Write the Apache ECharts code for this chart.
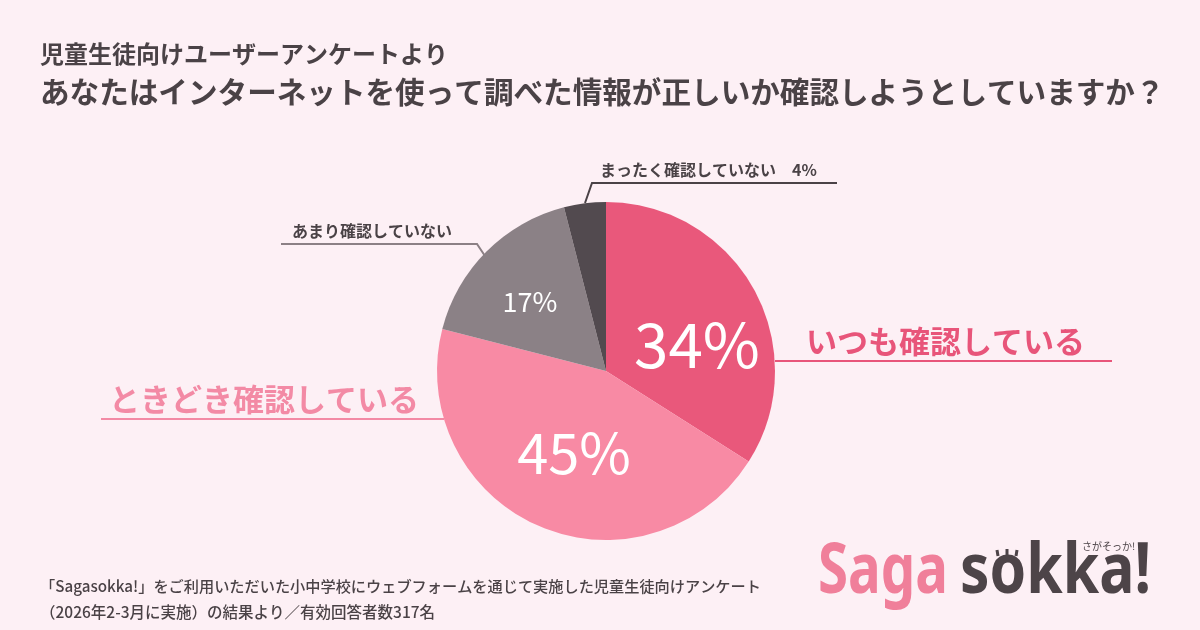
<!DOCTYPE html>
<html><head><meta charset="utf-8">
<script src="https://cdn.jsdelivr.net/npm/echarts@6/dist/echarts.min.js"></script>
<style>html,body{margin:0;padding:0;background:#fdf0f5}#c{width:1200px;height:630px}</style>
</head><body><div id="c"></div>
<script>
const categories = ['いつも確認している', 'ときどき確認している', 'あまり確認していない', 'まったく確認していない'];
const values = [34, 45, 17, 4];
const outerLabels = ['いつも確認している', 'ときどき確認している', 'あまり確認していない', 'まったく確認していない　4%'];
const innerLabels = ['34%', '45%', '17%', ''];
const titleLine1 = '児童生徒向けユーザーアンケートより';
const titleLine2 = 'あなたはインターネットを使って調べた情報が正しいか確認しようとしていますか？';
const footer1 = '「Sagasokka!」をご利用いただいた小中学校にウェブフォームを通じて実施した児童生徒向けアンケート';
const footer2 = '（2026年2-3月に実施）の結果より／有効回答者数317名';
const logoParts = ['Saga', 'sokka!', 'さがそっか!'];

const sliceColors = ['#e9587b', '#f88aa4', '#8b8186', '#524a4f'];
const FONT = '"Noto Sans CJK JP", "Noto Sans", sans-serif';
const DARK = '#4a4246';

// label styling / layout (pixels)
const outerStyle = [
  {size: 31, color: '#e8557a', line: '#e8557a', x: 806, y: 341, pts: [[775,361],[944,361],[1112,361]]},
  {size: 31, color: '#f38aa5', line: '#f38aa5', x: 109, y: 399, pts: [[444,419],[270,419],[101,419]]},
  {size: 16, color: DARK, line: '#8c8085', x: 292, y: 231, pts: [[485,256],[477,244],[281,244]]},
  {size: 16, color: DARK, line: DARK, x: 600, y: 170, pts: [[585,203],[592,183],[837,183]]}
];
const innerStyle = [
  {size: 62, x: 697, y: 344},
  {size: 56, x: 574, y: 453},
  {size: 27, x: 530, y: 302},
  {size: 1, x: 0, y: 0}
];

const chart = echarts.init(document.getElementById('c'), null, {renderer: 'canvas'});

const outerData = categories.map((c, i) => ({
  name: c, value: values[i],
  itemStyle: {color: sliceColors[i]},
  label: {
    show: true, formatter: outerLabels[i],
    fontSize: outerStyle[i].size, fontWeight: 'bold', color: outerStyle[i].color, fontFamily: FONT
  },
  labelLine: {show: true, lineStyle: {color: outerStyle[i].line, width: 2}}
}));
const innerData = categories.map((c, i) => ({
  name: c, value: values[i],
  itemStyle: {color: 'rgba(0,0,0,0)'},
  label: {
    show: innerLabels[i] !== '', formatter: innerLabels[i],
    fontSize: innerStyle[i].size, fontWeight: 'normal', color: '#ffffff', fontFamily: FONT
  }
}));

const LOGO_FONT = 'bold 70px "Noto Sans", sans-serif';
chart.setOption({
  backgroundColor: '#fdf0f5',
  animation: false,
  title: [
    {text: titleLine1, left: 35, top: 37, textStyle: {fontSize: 24, fontWeight: 'bold', color: DARK, fontFamily: FONT}},
    {text: titleLine2, left: 35, top: 72, textStyle: {fontSize: 29.6, fontWeight: 'bold', color: DARK, fontFamily: FONT}},
    {text: footer1, left: 35, top: 574, textStyle: {fontSize: 15.2, fontWeight: 500, color: DARK, fontFamily: FONT}},
    {text: footer2, left: 35, top: 599, textStyle: {fontSize: 15.5, fontWeight: 500, color: DARK, fontFamily: FONT}}
  ],
  graphic: [
    {type: 'text', x: 818, y: 608, scaleX: 0.78, style: {text: logoParts[0], font: LOGO_FONT, fill: '#f07f9a', textVerticalAlign: 'bottom'}},
    {type: 'text', x: 960, y: 608, scaleX: 0.84, style: {text: logoParts[1], font: LOGO_FONT, fill: '#4d4448', textVerticalAlign: 'bottom'}},
    {type: 'line', shape: {x1: 997, y1: 550, x2: 998, y2: 556}, style: {stroke: '#4d4448', lineWidth: 3}},
    {type: 'line', shape: {x1: 1007, y1: 549, x2: 1007, y2: 555}, style: {stroke: '#4d4448', lineWidth: 3}},
    {type: 'line', shape: {x1: 1017, y1: 550, x2: 1016, y2: 556}, style: {stroke: '#4d4448', lineWidth: 3}},
    {type: 'text', x: 1082, y: 541, z: 10, style: {text: logoParts[2], font: '10px "Noto Sans CJK JP", sans-serif', fill: '#4d4448'}}
  ],
  series: [
    {
      type: 'pie', center: [606, 371], radius: 169, startAngle: 90, clockwise: true,
      silent: true, data: outerData,
      label: {position: 'outside'},
      labelLayout: function (p) {
        const s = outerStyle[p.dataIndex];
        return {x: s.x, y: s.y, align: 'left', verticalAlign: 'middle', labelLinePoints: s.pts};
      }
    },
    {
      type: 'pie', center: [606, 371], radius: 169, startAngle: 90, clockwise: true,
      silent: true, data: innerData,
      label: {position: 'inside'},
      labelLine: {show: false},
      labelLayout: function (p) {
        const s = innerStyle[p.dataIndex];
        return {x: s.x, y: s.y, align: 'center', verticalAlign: 'middle'};
      }
    }
  ]
});
</script></body></html>
